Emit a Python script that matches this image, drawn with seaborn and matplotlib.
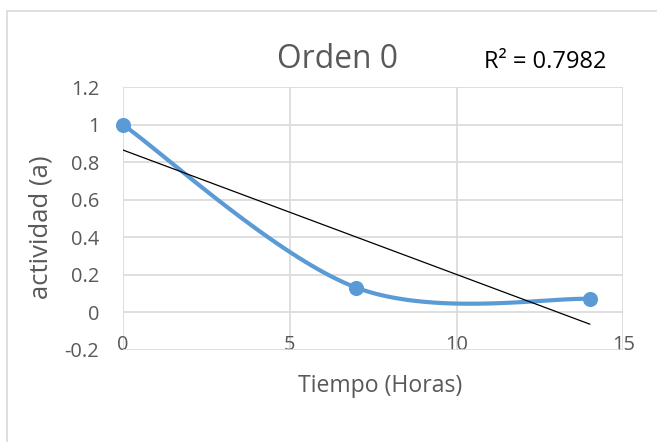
import numpy as np
import matplotlib
matplotlib.use("Agg")
import matplotlib.pyplot as plt
import seaborn as sns
from matplotlib.lines import Line2D

# data
tiempo = [0, 7, 14]
actividad = [1.0, 0.13, 0.07]
x_ticks = [0, 5, 10, 15]
y_ticks = [-0.2, 0, 0.2, 0.4, 0.6, 0.8, 1.0, 1.2]
y_tick_labels = ["-0.2", "0", "0.2", "0.4", "0.6", "0.8", "1", "1.2"]

BLUE = "#5B9BD5"
GRID = "#D9D9D9"
TXT = "#595959"


def excel_smooth(xs, ys, steps=60):
    """Bezier smoothing like Excel's 'smoothed line' option."""
    pts = np.column_stack([xs, ys]).astype(float)
    n = len(pts)
    out = []
    for i in range(n - 1):
        p0, p1 = pts[i], pts[i + 1]
        prev = pts[i - 1] if i > 0 else pts[i]
        nxt = pts[i + 2] if i + 2 < n else pts[i + 1]
        c1 = p0 + (p1 - prev) / 6.0
        c2 = p1 - (nxt - p0) / 6.0
        t = np.linspace(0, 1, steps)[:, None]
        seg = ((1 - t) ** 3) * p0 + 3 * ((1 - t) ** 2) * t * c1 + 3 * (1 - t) * t ** 2 * c2 + t ** 3 * p1
        out.append(seg if i == 0 else seg[1:])
    curve = np.vstack(out)
    return curve[:, 0], curve[:, 1]


sns.set_theme(style="white")
plt.rcParams["font.family"] = ["Open Sans", "DejaVu Sans"]

fig = plt.figure(figsize=(6.57, 4.42), dpi=100)
ax = fig.add_axes([123 / 657, 92.5 / 442, 500.3 / 657, 262.2 / 442])

# chart area border (only top and left visible in the reference)
fig.add_artist(Line2D([7 / 657, 7 / 657], [0, 431 / 442], color=GRID, lw=1.2, transform=fig.transFigure))
fig.add_artist(Line2D([7 / 657, 1], [431 / 442, 431 / 442], color=GRID, lw=1.2, transform=fig.transFigure))

# smoothed series
sx, sy = excel_smooth(tiempo, actividad)
sns.lineplot(x=sx, y=sy, sort=False, estimator=None, color=BLUE, lw=3, ax=ax, zorder=3)
sns.scatterplot(x=tiempo, y=actividad, color=BLUE, s=118, edgecolor=BLUE, linewidth=0,
                ax=ax, zorder=4, clip_on=False)

# linear trendline
slope, intercept = np.polyfit(tiempo, actividad, 1)
tx = np.array([tiempo[0], tiempo[-1]], dtype=float)
ax.plot(tx, slope * tx + intercept, color="black", lw=0.9, zorder=5)
pred = slope * np.array(tiempo) + intercept
ya = np.array(actividad)
r2 = 1 - np.sum((ya - pred) ** 2) / np.sum((ya - ya.mean()) ** 2)

ax.set_xlim(0, 15)
ax.set_ylim(-0.2, 1.2)
ax.set_xticks(x_ticks)
ax.set_xticklabels([str(v) for v in x_ticks])
ax.set_yticks(y_ticks)
ax.set_yticklabels(y_tick_labels)
ax.grid(True, color=GRID, lw=1.2)
ax.set_axisbelow(True)
for s in ax.spines.values():
    s.set_visible(False)
ax.tick_params(axis="x", length=0, pad=-10.4, labelsize=14.4, labelcolor=TXT)
ax.tick_params(axis="y", length=0, pad=17, labelsize=14.4, labelcolor=TXT)
ax.set_xlabel("")
ax.set_ylabel("")

fig.text(337.5 / 657, (442 - 68) / 442, "Orden 0", ha="center", va="baseline", fontsize=22.9, color=TXT)
fig.text(484 / 657, (442 - 67.7) / 442, f"R² = {r2:.4f}", ha="left", va="baseline", fontsize=17, color="black")
fig.text(380 / 657, (442 - 391.7) / 442, "Tiempo (Horas)", ha="center", va="baseline", fontsize=16.6, color=TXT)
fig.text(48 / 657, (442 - 227) / 442, "actividad (a)", ha="center", va="baseline", rotation=90,
         rotation_mode="anchor", fontsize=18.5, color=TXT)

fig.savefig("out.png", dpi=100, facecolor="white")
